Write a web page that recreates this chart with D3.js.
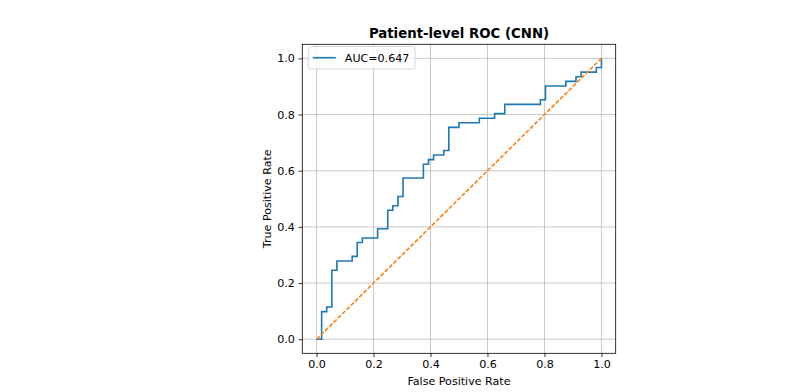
<!DOCTYPE html>
<html>
<head>
<meta charset="utf-8">
<script src="https://cdn.jsdelivr.net/npm/d3@7"></script>
<style>
  html, body { margin: 0; padding: 0; background: #fff; }
  svg { display: block; font-family: "DejaVu Sans", sans-serif; }
</style>
</head>
<body>
<svg id="chart" width="808" height="392"></svg>
<script>
// ROC step points (false positive rate, true positive rate)
const fpr = [0, 0.0179, 0.0179, 0.0357, 0.0357, 0.0536, 0.0536, 0.0714, 0.0714, 0.125, 0.125,
  0.1429, 0.1429, 0.1607, 0.1607, 0.2143, 0.2143, 0.25, 0.25, 0.2679, 0.2679, 0.2857, 0.2857,
  0.3036, 0.3036, 0.375, 0.375, 0.3929, 0.3929, 0.4107, 0.4107, 0.4464, 0.4464, 0.4643, 0.4643,
  0.5, 0.5, 0.5714, 0.5714, 0.625, 0.625, 0.6607, 0.6607, 0.7857, 0.7857, 0.8036, 0.8036,
  0.875, 0.875, 0.9107, 0.9107, 0.9286, 0.9286, 0.9821, 0.9821, 1, 1];
const tpr = [0, 0, 0.0984, 0.0984, 0.1148, 0.1148, 0.2459, 0.2459, 0.2787, 0.2787, 0.2951,
  0.2951, 0.3443, 0.3443, 0.3607, 0.3607, 0.3934, 0.3934, 0.459, 0.459, 0.4754, 0.4754, 0.5082,
  0.5082, 0.5738, 0.5738, 0.623, 0.623, 0.6393, 0.6393, 0.6557, 0.6557, 0.6721, 0.6721, 0.7541,
  0.7541, 0.7705, 0.7705, 0.7869, 0.7869, 0.8033, 0.8033, 0.8361, 0.8361, 0.8525, 0.8525, 0.9016,
  0.9016, 0.918, 0.918, 0.9344, 0.9344, 0.9508, 0.9508, 0.9672, 0.9672, 1];
const chanceX = [0, 1];
const chanceY = [0, 1];
const ticks = [0, 0.2, 0.4, 0.6, 0.8, 1.0];
const aucLabel = 'AUC=0.647';

const svg = d3.select('#chart');
const box = { left: 302.3, right: 615.7, top: 44.3, bottom: 353.3 };
const fs = '11.1px';

const x = d3.scaleLinear().domain([-0.05, 1.05]).range([box.left, box.right]);
const y = d3.scaleLinear().domain([-0.05, 1.05]).range([box.bottom, box.top]);

// grid
const grid = svg.append('g').attr('stroke', '#b0b0b0').attr('stroke-width', 0.8).attr('opacity', 0.85);
grid.selectAll('.gx').data(ticks).enter().append('line')
  .attr('x1', d => x(d)).attr('x2', d => x(d))
  .attr('y1', box.top).attr('y2', box.bottom);
grid.selectAll('.gy').data(ticks).enter().append('line')
  .attr('y1', d => y(d)).attr('y2', d => y(d))
  .attr('x1', box.left).attr('x2', box.right);

// axes
const fmt = d3.format('.1f');
const xAxis = svg.append('g')
  .attr('transform', `translate(0,${box.bottom})`)
  .call(d3.axisBottom(x).tickValues(ticks).tickFormat(fmt).tickSizeOuter(0).tickSize(3.7).tickPadding(3.3));
const yAxis = svg.append('g')
  .attr('transform', `translate(${box.left},0)`)
  .call(d3.axisLeft(y).tickValues(ticks).tickFormat(fmt).tickSizeOuter(0).tickSize(3.7).tickPadding(3.8));
for (const ax of [xAxis, yAxis]) {
  ax.select('.domain').remove();
  ax.selectAll('.tick line').attr('stroke', '#000').attr('stroke-width', 0.8);
  ax.selectAll('.tick text')
    .attr('font-family', 'DejaVu Sans, sans-serif')
    .attr('font-size', fs)
    .attr('fill', '#000');
}

// lines
const line = d3.line().x(d => x(d[0])).y(d => y(d[1]));
svg.append('path')
  .datum(fpr.map((v, i) => [v, tpr[i]]))
  .attr('d', line)
  .attr('fill', 'none')
  .attr('stroke', '#1f77b4')
  .attr('stroke-width', 1.6)
  .attr('stroke-linejoin', 'miter');
svg.append('path')
  .datum(chanceX.map((v, i) => [v, chanceY[i]]))
  .attr('d', line)
  .attr('fill', 'none')
  .attr('stroke', '#ff7f0e')
  .attr('stroke-width', 1.6)
  .attr('stroke-dasharray', '4.2,1.8');

// frame
svg.append('rect')
  .attr('x', box.left).attr('y', box.top)
  .attr('width', box.right - box.left).attr('height', box.bottom - box.top)
  .attr('fill', 'none').attr('stroke', '#000').attr('stroke-width', 0.8);

// legend
const lg = svg.append('g').attr('transform', 'translate(308.3,46.5)');
lg.append('rect')
  .attr('width', 106.7).attr('height', 22.5).attr('rx', 2.5)
  .attr('fill', 'rgba(255,255,255,0.8)').attr('stroke', '#cccccc').attr('stroke-width', 0.8);
lg.append('line')
  .attr('x1', 4.5).attr('x2', 27.5).attr('y1', 11.2).attr('y2', 11.2)
  .attr('stroke', '#1f77b4').attr('stroke-width', 1.6);
lg.append('text')
  .attr('x', 36.5).attr('y', 15.3)
  .attr('font-size', fs).attr('fill', '#000')
  .text(aucLabel);

// labels
svg.append('text')
  .attr('x', (box.left + box.right) / 2).attr('y', 38.3)
  .attr('text-anchor', 'middle').attr('font-size', '13.3px').attr('font-weight', 'bold')
  .text('Patient-level ROC (CNN)');
svg.append('text')
  .attr('x', (box.left + box.right) / 2).attr('y', 385)
  .attr('text-anchor', 'middle').attr('font-size', fs)
  .text('False Positive Rate');
svg.append('text')
  .attr('transform', `translate(271,${(box.top + box.bottom) / 2}) rotate(-90)`)
  .attr('text-anchor', 'middle').attr('font-size', fs)
  .text('True Positive Rate');
</script>
</body>
</html>
